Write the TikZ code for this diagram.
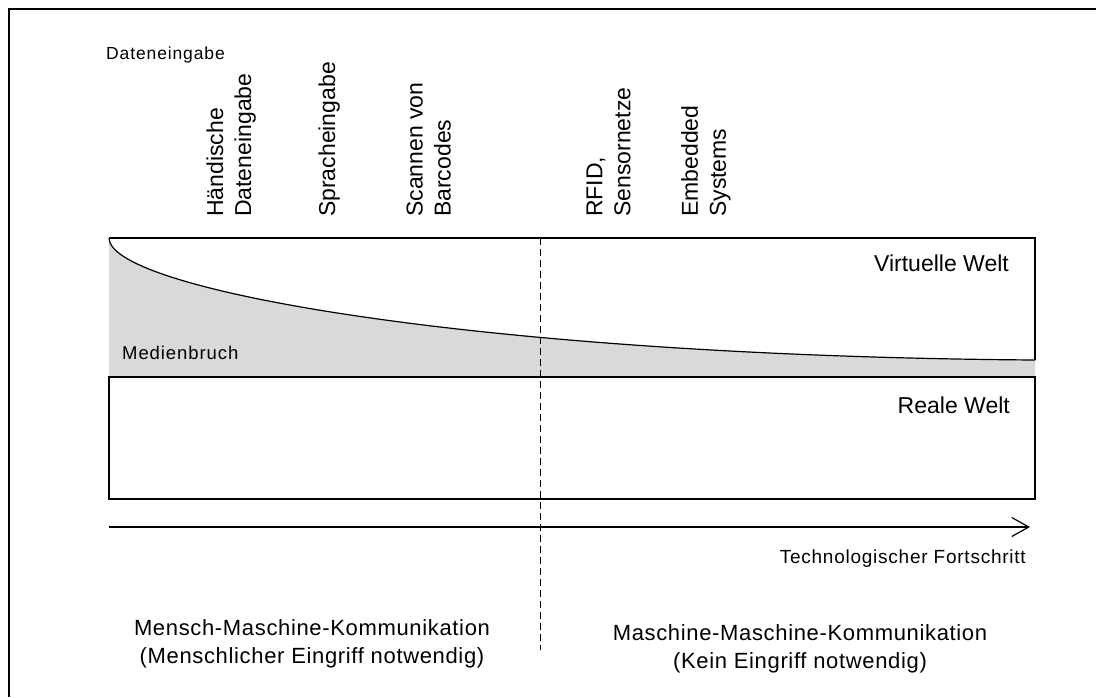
\documentclass[tikz,border=0pt]{standalone}
\usepackage{fontspec}
\setmainfont{Liberation Sans}
\usetikzlibrary{arrows.meta}
\definecolor{gapgrey}{HTML}{D9D9D9}
\begin{document}
\begin{tikzpicture}[x=1pt,y=-1pt,
  frameline/.style={line width=1.3pt},
  vlabel/.style={rotate=90, anchor=west, align=left, inner sep=0pt,
    font=\fontsize{23}{28}\selectfont},
  worldlabel/.style={anchor=base east, inner sep=0pt,
    font=\fontsize{23}{28}\selectfont},
  smalllabel/.style={inner sep=0pt, font=\fontsize{17.5}{21}\selectfont\addfontfeature{LetterSpace=5}},
  bottomlabel/.style={align=center, inner sep=0pt,
    font=\fontsize{22}{28}\selectfont\addfontfeature{LetterSpace=3}},
  divider/.style={line width=1pt, dash pattern=on 7pt off 4pt},
  progress/.style={line width=1.2pt, -{Straight Barb[length=17pt,width=19pt,line width=1.2pt]}},
]
\useasboundingbox (0,0) rectangle (1096,697);

% outer frame, running off the page to the right and at the bottom
\draw[line width=1.6pt] (9,697) -- (9,9) -- (1096,9);

% corner points of the two worlds
\coordinate (vtl) at (109,238);
\coordinate (vtr) at (1035,238);
\coordinate (vbr) at (1035,360);
\coordinate (rtl) at (109,377);
\coordinate (rbr) at (1035,499);

% media break: grey area under the curve
\fill[gapgrey] (vtl) .. controls (109,290) and (480,356) .. (vbr)
  -- (1035,377) -- (rtl) -- cycle;
\draw[line width=1.2pt] (vtl) .. controls (109,290) and (480,356) .. (vbr);

% virtual world (open on the left) and real world
\draw[frameline] (vtl) -- (1036,238);
\draw[frameline] (vtr) -- (vbr);
\draw[frameline] (rtl) rectangle (rbr);

% divider between the two kinds of communication
\coordinate (dtop) at (540,238);
\coordinate (dbot) at (540,650);
\draw[divider] (dtop) -- (dbot);

% axis of technological progress
\coordinate (astart) at (109,527);
\coordinate (aend) at (1030,527);
\draw[progress] (astart) -- (aend);

% labels
\node[smalllabel, anchor=base west] (input) at (106,59) {Dateneingabe};

\node[vlabel] (manual) at (231.3,217) {Händische\\Dateneingabe};
\node[vlabel, anchor=base west] (speech) at (335,217) {Spracheingabe};
\node[vlabel] (barcode) at (428.6,217) {Scannen von\\Barcodes};
\node[vlabel] (rfid) at (608.6,217) {RFID,\\Sensornetze};
\node[vlabel] (embedded) at (706,217) {Embedded\\Systems};

\node[worldlabel] (virtual) at (1009,271) {Virtuelle Welt};
\node[worldlabel] (real) at (1010,413) {Reale Welt};
\node[smalllabel, anchor=base west, font=\fontsize{18.5}{22}\selectfont\addfontfeature{LetterSpace=5}]
  (break) at (122,359) {Medienbruch};

\node[smalllabel, anchor=base east, font=\fontsize{19}{22}\selectfont\addfontfeature{LetterSpace=4}]
  (progresslabel) at (1026,563) {Technologischer Fortschritt};

\node[bottomlabel] (mmk) at (312,644.3)
  {Mensch-Maschine-Kommunikation\\(Menschlicher Eingriff notwendig)};
\node[bottomlabel] (m2m) at (800,649)
  {Maschine-Maschine-Kommunikation\\(Kein Eingriff notwendig)};
\end{tikzpicture}
\end{document}
